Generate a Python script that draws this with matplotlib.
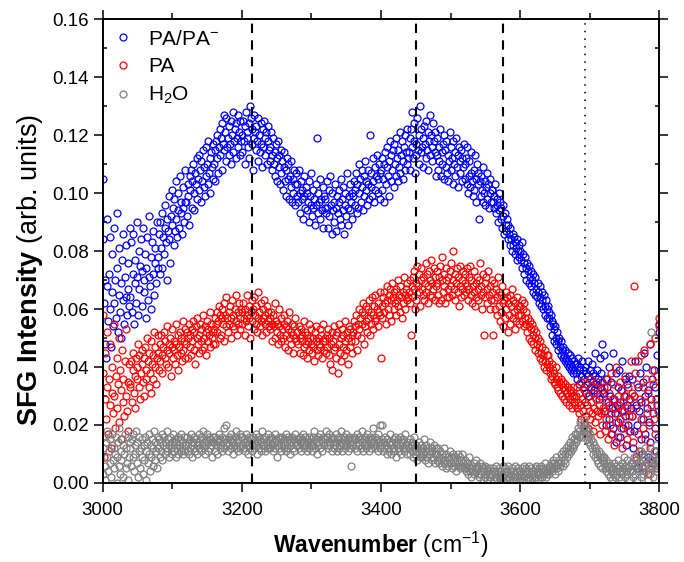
import numpy as np
import matplotlib
matplotlib.use("Agg")
import matplotlib.pyplot as plt

plt.rcParams['font.family'] = ['Liberation Sans', 'DejaVu Sans']
plt.rcParams['mathtext.fontset'] = 'custom'
plt.rcParams['mathtext.rm'] = 'Liberation Sans'
plt.rcParams['mathtext.it'] = 'Liberation Sans:italic'
plt.rcParams['mathtext.bf'] = 'Liberation Sans:bold'

# ---------------- data ----------------
# wavenumber grid (cm^-1): first point and spacing
wn_start, wn_step = 3000, 1

# SFG intensities, in units of 0.001 arb. units
unit = 1e-3

pa_pam = [
    105, 84, 62, 70, 48, 43, 68, 91, 56, 72, 60, 85, 47, 66, 79, 54, 62, 88, 70, 57, 74, 93, 52, 65, 81, 59, 69, 50, 77, 63, 86, 55, 71, 64, 82, 58, 67, 76, 61, 88,
    64, 83, 59, 72, 86, 55, 69, 77, 62, 90, 71, 58, 80, 67, 75, 84, 61, 73, 88, 70, 66, 79, 57, 74, 85, 63, 71, 92, 68, 78, 60, 83, 72, 87, 65, 76, 81, 69, 90, 74,
    78, 86, 72, 90, 81, 74, 93, 85, 79, 88, 96, 83, 70, 91, 87, 99, 84, 76, 92, 101, 89, 95, 82, 98, 87, 104, 91, 85, 100, 94, 88, 106, 93, 97, 86, 102, 95, 90, 108, 97,
    97, 92, 103, 99, 89, 106, 101, 108, 95, 104, 110, 100, 94, 107, 103, 112, 98, 105, 113, 101, 108, 97, 111, 104, 115, 102, 109, 99, 116, 106, 110, 103, 118, 107, 112, 100, 114, 109, 105, 117,
    110, 115, 104, 118, 112, 120, 107, 116, 122, 113, 119, 124, 108, 117, 127, 115, 121, 111, 126, 116, 119, 113, 123, 117, 110, 125, 120, 114, 128, 118, 122, 112, 124, 119, 116, 127, 121, 113, 125, 118,
    120, 114, 125, 118, 123, 110, 128, 119, 121, 116, 124, 112, 130, 126, 117, 122, 108, 119, 127, 121, 115, 123, 118, 111, 126, 120, 114, 124, 117, 109, 122, 116, 125, 119, 113, 121, 110, 118, 123, 115,
    116, 111, 121, 113, 108, 119, 110, 114, 106, 117, 112, 104, 118, 109, 113, 103, 115, 107, 111, 101, 109, 114, 104, 108, 99, 112, 105, 110, 98, 106, 102, 111, 97, 105, 100, 108, 96, 103, 107, 99,
    103, 97, 108, 100, 93, 104, 98, 101, 91, 99, 106, 95, 102, 94, 100, 97, 104, 90, 99, 96, 107, 92, 101, 95, 98, 89, 103, 96, 119, 93, 100, 97, 105, 91, 98, 94, 102, 88, 99, 95,
    98, 93, 104, 95, 88, 101, 92, 106, 96, 86, 100, 94, 97, 90, 103, 95, 87, 99, 93, 101, 97, 91, 105, 89, 98, 94, 102, 86, 96, 100, 92, 107, 95, 89, 99, 103, 94, 97, 91, 100,
    99, 104, 96, 101, 107, 93, 103, 95, 110, 100, 105, 97, 102, 108, 94, 106, 99, 111, 101, 104, 96, 108, 103, 98, 120, 102, 107, 99, 112, 104, 97, 109, 101, 106, 113, 100, 105, 110, 98, 107,
    108, 101, 112, 105, 97, 110, 114, 103, 109, 116, 106, 111, 99, 118, 104, 113, 108, 115, 102, 117, 110, 106, 119, 112, 104, 115, 109, 121, 107, 113, 118, 105, 111, 116, 120, 108, 114, 110, 122, 112,
    114, 119, 108, 122, 116, 128, 112, 118, 124, 107, 117, 113, 126, 115, 120, 110, 130, 114, 122, 116, 119, 109, 123, 117, 112, 125, 115, 121, 108, 118, 127, 113, 120, 116, 111, 124, 118, 114, 121, 106,
    113, 119, 108, 116, 111, 122, 106, 114, 110, 117, 120, 105, 115, 109, 118, 107, 113, 104, 111, 121, 108, 116, 112, 103, 118, 110, 114, 106, 119, 109, 113, 102, 116, 111, 107, 115, 104, 112, 109, 117,
    110, 105, 112, 103, 116, 100, 106, 111, 102, 107, 114, 104, 99, 108, 101, 113, 97, 105, 110, 103, 107, 91, 104, 99, 106, 101, 97, 109, 100, 104, 96, 102, 107, 98, 103, 95, 100, 105, 97, 101,
    101, 97, 95, 99, 103, 93, 98, 96, 90, 100, 94, 97, 91, 95, 88, 96, 92, 86, 93, 89, 87, 91, 84, 89, 86, 82, 88, 84, 80, 86, 82, 85, 79, 83, 81, 77, 84, 80, 78, 82,
    80, 77, 83, 74, 79, 76, 72, 78, 74, 70, 76, 73, 69, 75, 71, 68, 73, 70, 66, 72, 69, 65, 71, 67, 64, 69, 66, 62, 68, 64, 61, 66, 63, 60, 65, 61, 58, 63, 60, 57,
    61, 57, 59, 54, 58, 56, 51, 55, 53, 49, 54, 50, 48, 52, 49, 46, 50, 47, 44, 49, 46, 43, 47, 44, 42, 46, 43, 41, 45, 42, 40, 44, 41, 39, 43, 40, 38, 42, 39, 41,
    38, 41, 36, 43, 39, 34, 40, 37, 35, 42, 39, 33, 36, 40, 31, 38, 34, 42, 37, 30, 36, 39, 33, 41, 35, 38, 32, 37, 45, 34, 31, 39, 36, 29, 43, 33, 38, 35, 48, 31,
    31, 44, 25, 36, 20, 33, 28, 40, 22, 30, 17, 35, 26, 45, 19, 29, 24, 38, 14, 27, 33, 21, 39, 28, 16, 32, 25, 42, 19, 30, 36, 23, 13, 27, 34, 20, 29, 37, 18, 26,
    23, 36, 12, 30, 18, 42, 8, 27, 20, 33, 5, 25, 38, 15, 28, 10, 35, 22, 45, 30, 17, 40, 26, 9, 32, 21, 48, 14, 29, 36, 7, 24, 39, 19, 33, 11, 44, 27, 16, 52,
    55,
]

pa = [
    38, 58, 9, 29, 45, 22, 33, 52, 17, 36, 27, 48, 12, 31, 40, 24, 55, 30, 19, 37, 43, 26, 34, 50, 21, 39, 15, 32, 46, 28, 36, 23, 42, 30, 53, 25, 35, 18, 41, 33,
    34, 42, 28, 39, 45, 31, 37, 26, 43, 36, 40, 48, 33, 44, 29, 38, 46, 41, 35, 43, 30, 47, 39, 36, 50, 42, 33, 45, 38, 31, 49, 41, 44, 36, 52, 40, 47, 34, 43, 51,
    45, 39, 48, 42, 51, 44, 38, 47, 52, 43, 49, 41, 46, 54, 40, 48, 45, 50, 37, 47, 53, 43, 49, 46, 41, 55, 48, 44, 51, 39, 47, 52, 45, 50, 42, 56, 46, 49, 43, 53,
    48, 52, 43, 50, 55, 47, 51, 44, 53, 49, 56, 46, 52, 41, 54, 50, 57, 48, 45, 51, 55, 49, 53, 46, 58, 50, 47, 54, 52, 44, 56, 49, 53, 51, 59, 47, 55, 50, 52, 48,
    53, 57, 48, 55, 59, 52, 56, 61, 50, 58, 51, 57, 60, 55, 62, 49, 58, 54, 64, 57, 52, 59, 55, 61, 50, 57, 63, 54, 58, 53, 60, 56, 65, 51, 59, 55, 62, 57, 53, 60,
    59, 55, 62, 57, 51, 60, 56, 65, 58, 54, 61, 57, 50, 59, 63, 56, 60, 53, 64, 58, 55, 61, 52, 57, 66, 59, 54, 62, 56, 51, 60, 57, 63, 55, 58, 52, 61, 56, 59, 54,
    57, 53, 59, 55, 49, 58, 54, 62, 50, 56, 52, 55, 48, 60, 54, 51, 57, 49, 53, 50, 55, 58, 47, 54, 51, 56, 46, 53, 59, 50, 52, 48, 55, 51, 45, 54, 50, 57, 49, 52,
    52, 48, 54, 50, 45, 53, 49, 51, 44, 56, 47, 52, 48, 43, 51, 49, 46, 55, 50, 48, 53, 45, 50, 47, 42, 52, 49, 54, 46, 50, 44, 48, 53, 47, 51, 43, 49, 55, 46, 50,
    49, 45, 51, 47, 53, 44, 50, 41, 48, 52, 39, 49, 46, 54, 47, 51, 43, 52, 38, 55, 48, 45, 50, 42, 53, 47, 51, 44, 56, 49, 46, 52, 41, 50, 54, 47, 53, 49, 45, 51,
    52, 56, 49, 54, 58, 51, 46, 55, 60, 53, 57, 50, 59, 55, 62, 48, 58, 54, 61, 56, 52, 60, 57, 63, 51, 59, 55, 64, 58, 53, 61, 56, 65, 57, 60, 54, 62, 59, 66, 58,
    43, 61, 57, 64, 59, 66, 62, 55, 63, 68, 60, 65, 58, 67, 63, 56, 69, 64, 60, 66, 62, 58, 67, 63, 70, 61, 65, 59, 68, 64, 57, 66, 62, 71, 65, 60, 67, 63, 69, 64,
    66, 70, 62, 51, 68, 64, 71, 67, 73, 60, 69, 63, 75, 68, 66, 72, 61, 70, 74, 67, 65, 71, 63, 69, 76, 66, 72, 62, 68, 73, 65, 70, 77, 64, 69, 67, 74, 63, 71, 68,
    69, 73, 65, 71, 62, 75, 63, 70, 78, 66, 72, 68, 62, 74, 70, 64, 67, 71, 64, 73, 68, 76, 65, 70, 80, 67, 72, 63, 69, 74, 66, 71, 61, 68, 75, 64, 70, 67, 73, 65,
    69, 72, 66, 74, 68, 63, 71, 67, 75, 65, 70, 62, 68, 73, 66, 61, 69, 64, 71, 67, 63, 70, 76, 65, 68, 60, 72, 66, 51, 69, 64, 71, 62, 67, 73, 65, 60, 68, 63, 70,
    66, 51, 63, 69, 60, 67, 58, 64, 71, 61, 66, 56, 65, 59, 68, 62, 54, 63, 57, 66, 60, 64, 52, 62, 58, 65, 55, 61, 67, 57, 63, 59, 53, 62, 56, 60, 64, 58, 61, 55,
    61, 58, 63, 56, 60, 54, 62, 57, 55, 59, 52, 57, 54, 50, 56, 53, 49, 55, 51, 48, 53, 50, 46, 52, 48, 45, 50, 47, 43, 49, 45, 42, 47, 44, 40, 46, 42, 39, 44, 41,
    44, 40, 42, 38, 36, 41, 37, 39, 35, 38, 34, 36, 40, 33, 37, 32, 35, 31, 34, 36, 30, 33, 35, 29, 32, 34, 28, 31, 33, 30, 27, 32, 29, 31, 26, 30, 33, 28, 30, 27,
    30, 26, 33, 28, 24, 31, 27, 35, 22, 29, 25, 32, 20, 28, 34, 23, 27, 19, 30, 25, 36, 22, 28, 24, 31, 18, 26, 33, 21, 29, 25, 35, 23, 27, 17, 30, 24, 32, 20, 26,
    25, 33, 18, 28, 22, 36, 15, 27, 31, 20, 38, 24, 17, 29, 34, 13, 26, 21, 40, 24, 30, 16, 27, 35, 22, 19, 32, 12, 28, 25, 37, 20, 30, 15, 26, 33, 23, 18, 29, 42,
    23, 31, 14, 30, 68, 38, 9, 26, 34, 17, 42, 11, 29, 22, 44, 6, 33, 19, 46, 28, 15, 36, 24, 3, 31, 20, 48, 12, 27, 39, 8, 34, 22, 50, 17, 29, 5, 37, 25, 54,
    57,
]

h2o = [
    3, 12, 16, 6, 1, 14, 9, 18, 4, 11, 7, 15, 2, 13, 17, 8, 5, 12, 10, 16, 0, 9, 14, 6, 19, 3, 11, 8, 15, 2, 13, 10, 17, 5, 12, 7, 16, 1, 9, 14,
    12, 6, 15, 9, 17, 4, 13, 10, 18, 7, 14, 2, 11, 16, 5, 12, 9, 15, 3, 13, 8, 16, 11, 1, 14, 7, 17, 10, 4, 13, 9, 15, 6, 12, 18, 8, 14, 11, 5, 16,
    12, 15, 9, 14, 11, 17, 8, 13, 16, 10, 14, 12, 18, 11, 15, 9, 13, 16, 12, 14, 10, 17, 13, 11, 15, 9, 14, 12, 16, 10, 13, 15, 11, 17, 12, 14, 10, 16, 13, 11,
    13, 16, 11, 14, 10, 15, 12, 17, 13, 9, 14, 12, 16, 11, 15, 13, 10, 14, 17, 12, 15, 11, 16, 13, 18, 12, 14, 10, 15, 13, 17, 11, 14, 16, 12, 15, 13, 9, 16, 14,
    14, 11, 16, 13, 15, 10, 14, 17, 12, 15, 13, 11, 16, 14, 19, 12, 15, 13, 20, 14, 11, 16, 13, 15, 12, 17, 14, 10, 15, 13, 16, 12, 18, 14, 11, 15, 13, 17, 12, 16,
    13, 16, 12, 15, 11, 14, 17, 13, 15, 10, 14, 16, 12, 15, 13, 11, 16, 14, 12, 15, 17, 13, 10, 14, 16, 12, 15, 11, 14, 18, 13, 15, 12, 16, 11, 14, 13, 17, 12, 15,
    14, 12, 16, 13, 15, 11, 14, 17, 12, 15, 13, 9, 14, 16, 12, 15, 13, 11, 16, 14, 12, 15, 13, 17, 11, 14, 16, 12, 15, 10, 14, 13, 16, 12, 15, 11, 17, 14, 13, 15,
    13, 15, 12, 16, 14, 11, 15, 13, 17, 12, 14, 16, 13, 15, 11, 14, 12, 16, 14, 13, 15, 11, 16, 13, 18, 12, 14, 15, 10, 16, 13, 14, 12, 17, 15, 11, 14, 16, 13, 15,
    15, 18, 13, 16, 12, 14, 17, 13, 15, 11, 16, 14, 12, 15, 13, 17, 14, 11, 15, 12, 16, 13, 18, 14, 11, 15, 13, 16, 12, 14, 17, 13, 15, 11, 16, 14, 12, 6, 15, 13,
    14, 16, 12, 15, 13, 17, 11, 14, 16, 13, 15, 12, 18, 14, 11, 15, 13, 16, 12, 14, 17, 13, 15, 11, 16, 14, 12, 15, 13, 19, 14, 12, 16, 13, 15, 11, 17, 14, 12, 20,
    13, 20, 15, 11, 14, 12, 16, 13, 10, 15, 12, 14, 11, 17, 13, 10, 14, 12, 15, 11, 16, 13, 9, 14, 12, 15, 11, 13, 16, 10, 14, 12, 15, 11, 13, 17, 12, 14, 10, 13,
    12, 15, 10, 13, 11, 14, 9, 12, 16, 10, 13, 11, 8, 12, 10, 14, 9, 11, 13, 9, 12, 10, 15, 8, 11, 13, 9, 12, 7, 11, 14, 10, 12, 8, 11, 9, 13, 10, 7, 12,
    10, 8, 12, 9, 7, 11, 8, 10, 6, 9, 12, 7, 8, 5, 10, 7, 9, 6, 8, 11, 7, 9, 5, 8, 10, 6, 9, 7, 4, 8, 10, 6, 7, 9, 5, 8, 6, 10, 7, 5,
    6, 8, 4, 7, 5, 3, 6, 9, 4, 5, 2, 6, 4, 7, 3, 5, 8, 4, 6, 3, 5, 2, 7, 4, 3, 6, 1, 5, 4, 2, 6, 3, 5, 1, 4, 3, 2, 5, 3, 4,
    3, 5, 1, 4, 2, 6, 3, 1, 4, 2, 5, 3, 0, 4, 2, 6, 1, 3, 5, 2, 4, 1, 3, 6, 2, 4, 0, 3, 5, 1, 4, 2, 3, 6, 1, 4, 2, 5, 3, 1,
    4, 2, 5, 1, 3, 6, 2, 4, 1, 5, 3, 2, 6, 4, 1, 3, 5, 2, 4, 3, 1, 5, 2, 6, 3, 4, 1, 5, 3, 2, 6, 4, 2, 5, 3, 7, 4, 2, 5, 3,
    4, 6, 3, 5, 7, 4, 6, 8, 5, 7, 3, 6, 9, 5, 7, 4, 8, 6, 10, 7, 9, 6, 11, 8, 10, 7, 12, 9, 11, 13, 10, 12, 14, 11, 13, 16, 12, 15, 13, 17,
    14, 17, 15, 19, 16, 18, 21, 17, 20, 16, 19, 22, 18, 20, 17, 19, 15, 18, 16, 14, 17, 13, 15, 12, 14, 10, 13, 11, 9, 12, 8, 10, 7, 11, 9, 6, 10, 8, 5, 9,
    7, 9, 5, 8, 4, 6, 3, 7, 5, 2, 6, 4, 1, 5, 3, 7, 2, 4, 6, 3, 8, 5, 2, 6, 4, 1, 7, 3, 5, 9, 2, 6, 4, 8, 3, 5, 1, 6, 4, 7,
    4, 7, 2, 6, 9, 3, 5, 8, 1, 6, 10, 4, 7, 2, 11, 5, 8, 3, 9, 6, 12, 4, 7, 1, 10, 5, 8, 3, 52, 6, 9, 2, 11, 5, 7, 13, 4, 8, 6, 10,
    8,
]

series_labels = ['PA/PA$^{-}$', 'PA', 'H$_2$O']
series_colors = ['#0000FF', '#FF0000', '#808080']

dashed_lines = [3214, 3450, 3575]
dotted_lines = [3693]

xticks = [3000, 3200, 3400, 3600, 3800]
yticks = [0.00, 0.02, 0.04, 0.06, 0.08, 0.10, 0.12, 0.14, 0.16]

# ---------------- plot ----------------
fig = plt.figure(figsize=(6.84, 5.62), dpi=100)
ax = fig.add_axes([0.150, 0.1406, 0.814, 0.8254])

for vals, lab, col in zip([pa_pam, pa, h2o], series_labels, series_colors):
    y = np.asarray(vals, dtype=float) * unit
    x = wn_start + wn_step * np.arange(len(y))
    ax.plot(x, y, linestyle='none', marker='o', markersize=5.0,
            markerfacecolor='none', markeredgecolor=col, markeredgewidth=0.9,
            label=lab, zorder=2)

for xv in dashed_lines:
    ax.axvline(xv, color='black', linestyle=(0, (4.5, 3.5)), linewidth=1.5, zorder=3)
for xv in dotted_lines:
    ax.axvline(xv, color='black', linestyle=(0, (1, 4)), linewidth=1.1, zorder=3)

ax.set_xlim(3000, 3800)
ax.set_ylim(0, 0.16)
ax.set_xticks(xticks)
ax.set_yticks(yticks)
ax.set_xticks(np.arange(3100, 3800, 200), minor=True)
ax.set_yticks(np.arange(0.01, 0.16, 0.02), minor=True)
ax.set_yticklabels([f'{v:.2f}' for v in yticks])
ax.set_xticklabels([str(v) for v in xticks])

ax.tick_params(axis='x', which='major', labelsize=13.5, direction='out',
               length=6.5, width=1.1, top=True, pad=7)
ax.tick_params(axis='x', which='minor', direction='out', length=4, width=1.1, top=True)
ax.tick_params(axis='y', which='major', labelsize=13.5, direction='out',
               length=6.5, width=1.1, right=True, pad=3.5)
ax.tick_params(axis='y', which='minor', direction='in', length=3, width=1.1, right=True)
for sp in ax.spines.values():
    sp.set_linewidth(1.4)

ax.set_xlabel(r'$\mathbf{Wavenumber}$ (cm$^{-1}$)', fontsize=16.5, labelpad=8)
ax.set_ylabel(r'$\mathbf{SFG\ Intensity}$ (arb. units)', fontsize=19.5)
ax.yaxis.set_label_coords(-0.104, 0.459)

leg = ax.legend(loc='upper left', frameon=False, fontsize=15, handletextpad=0.7,
                labelspacing=0.42, borderaxespad=0.2, handlelength=1.0,
                borderpad=0.3, bbox_to_anchor=(0.0, 1.0))

fig.savefig('out.png', dpi=100)
